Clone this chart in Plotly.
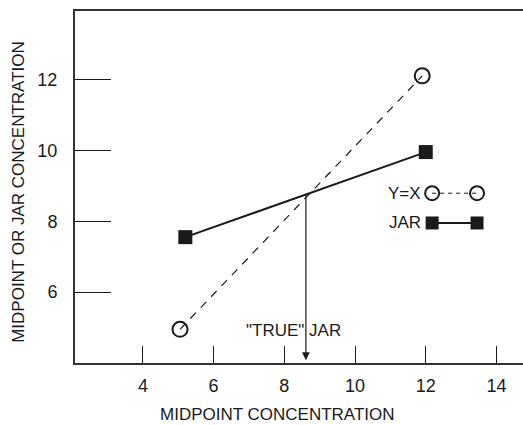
import plotly.graph_objects as go

# ---- data ----
yx_x = [5.05, 11.9]
yx_y = [4.95, 12.1]
jar_x = [5.2, 12.0]
jar_y = [7.55, 9.95]
true_jar_x = 8.61
true_jar_y = 8.80

x_ticks = [4, 6, 8, 10, 12, 14]
y_ticks = [6, 8, 10, 12]

x_title = "MIDPOINT CONCENTRATION"
y_title = "MIDPOINT OR JAR CONCENTRATION"
arrow_label = '"TRUE" JAR'
legend_labels = ["Y=X", "JAR"]

# legend key positions (layout, in data units)
LEG_X = [12.18, 13.45]
LEG_Y_CIRCLE = 8.79
LEG_Y_SQUARE = 7.95

FONT = "Liberation Sans"
FS = 17
INK = "#1a1a1a"

fig = go.Figure()

fig.add_trace(go.Scatter(
    x=yx_x, y=yx_y, mode="lines+markers",
    line=dict(color=INK, width=1.2, dash="8px,7px"),
    marker=dict(symbol="circle-open", size=15, color=INK, line=dict(width=2)),
    showlegend=False))
fig.add_trace(go.Scatter(
    x=jar_x, y=jar_y, mode="lines+markers",
    line=dict(color=INK, width=2),
    marker=dict(symbol="square", size=14, color=INK),
    showlegend=False))

# legend keys
fig.add_trace(go.Scatter(
    x=LEG_X, y=[LEG_Y_CIRCLE] * 2, mode="lines+markers",
    line=dict(color=INK, width=1, dash="4px,4px"),
    marker=dict(symbol="circle-open", size=14, color=INK, line=dict(width=2)),
    showlegend=False))
fig.add_trace(go.Scatter(
    x=LEG_X, y=[LEG_Y_SQUARE] * 2, mode="lines+markers",
    line=dict(color=INK, width=2),
    marker=dict(symbol="square", size=13, color=INK),
    showlegend=False))

fig.add_annotation(x=LEG_X[0] - 0.25, y=LEG_Y_CIRCLE, text=legend_labels[0],
                   showarrow=False, xanchor="right", yanchor="middle",
                   font=dict(size=FS, color=INK, family=FONT))
fig.add_annotation(x=LEG_X[0] - 0.25, y=LEG_Y_SQUARE, text=legend_labels[1],
                   showarrow=False, xanchor="right", yanchor="middle",
                   font=dict(size=FS, color=INK, family=FONT))

# arrow down to "true" JAR
fig.add_annotation(x=true_jar_x, y=4.08, ax=true_jar_x, ay=true_jar_y,
                   xref="x", yref="y", axref="x", ayref="y",
                   showarrow=True, arrowhead=2, arrowsize=1.3, arrowwidth=1.2,
                   arrowcolor=INK, text="")
fig.add_annotation(x=8.27, y=4.93, text=arrow_label, showarrow=False,
                   xanchor="center", yanchor="middle",
                   font=dict(size=FS, color=INK, family=FONT))

# axis titles
fig.add_annotation(x=0.451, y=-0.145, xref="paper", yref="paper",
                   text=x_title, showarrow=False, xanchor="center", yanchor="middle",
                   font=dict(size=FS, color=INK, family=FONT))
fig.add_annotation(x=-0.126, y=0.485, xref="paper", yref="paper",
                   text=y_title, showarrow=False, textangle=-90,
                   xanchor="center", yanchor="middle",
                   font=dict(size=FS, color=INK, family=FONT))

fig.update_layout(
    width=523, height=425,
    margin=dict(l=75, r=0, t=11, b=62),
    paper_bgcolor="white", plot_bgcolor="white",
    font=dict(family=FONT, size=FS, color=INK),
    xaxis=dict(range=[2.08, 14.75], tickvals=x_ticks, ticks="inside", ticklen=17,
               tickwidth=1, tickcolor=INK, showline=True, linecolor="#333",
               linewidth=2, mirror=True, showgrid=False, zeroline=False,
               tickfont=dict(size=18), ticklabelstandoff=5),
    yaxis=dict(range=[4.0, 13.93], tickvals=y_ticks, ticks="inside", ticklen=36,
               tickwidth=1, tickcolor=INK, showline=True, linecolor="#333",
               linewidth=2, showgrid=False, zeroline=False,
               tickfont=dict(size=18), ticklabelstandoff=12),
)

fig.write_html("out.html")
